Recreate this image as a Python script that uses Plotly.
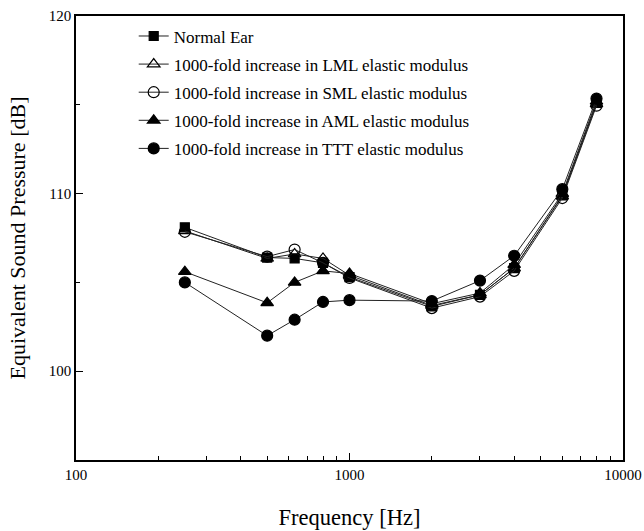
import plotly.graph_objects as go

freq = [250, 500, 630, 800, 1000, 2000, 3000, 4000, 6000, 8000]
normal_ear = [108.1, 106.4, 106.35, 106.1, 105.3, 103.65, 104.3, 105.8, 109.9, 115.1]
lml = [107.9, 106.35, 106.6, 106.35, 105.4, 103.7, 104.3, 105.8, 109.85, 115.05]
sml = [107.85, 106.45, 106.85, 106.1, 105.25, 103.55, 104.2, 105.65, 109.75, 114.95]
aml = [105.6, 103.85, 105.0, 105.65, 105.5, 103.8, 104.4, 106.0, 110.0, 115.2]
ttt = [105.0, 102.0, 102.9, 103.9, 104.0, 103.95, 105.1, 106.5, 110.25, 115.35]

names = ["Normal Ear",
         "1000-fold increase in LML elastic modulus",
         "1000-fold increase in SML elastic modulus",
         "1000-fold increase in AML elastic modulus",
         "1000-fold increase in TTT elastic modulus"]
series = [normal_ear, lml, sml, aml, ttt]
symbols = ["square", "triangle-up-open", "circle-open", "triangle-up", "circle"]
sizes = [9, 11, 11, 11, 11]

x_major = [100, 1000, 10000]
x_minor = [200, 300, 400, 500, 600, 700, 800, 900, 2000, 3000, 4000, 5000, 6000, 7000, 8000, 9000]
y_major = [100, 110, 120]
y_minor = [105, 115]

FONT = "Liberation Serif, Times New Roman, serif"

fig = go.Figure()
for i, (name, vals, sym, sz) in enumerate(zip(names, series, symbols, sizes)):
    fig.add_trace(go.Scatter(
        x=freq, y=vals, name=name, mode="lines+markers", legendgroup=f"g{i}",
        line=dict(color="#222222", width=1),
        marker=dict(symbol=sym, size=sz, color="black",
                    line=dict(color="black", width=1.2)),
    ))

fig.update_layout(
    template="none",
    width=644, height=531,
    margin=dict(l=76, r=21, t=16, b=71, autoexpand=False),
    paper_bgcolor="white", plot_bgcolor="white",
    font=dict(family=FONT, color="black", size=15),
    showlegend=True,
    legend=dict(x=0.1055, y=0.9945, xanchor="left", yanchor="top",
                bgcolor="rgba(0,0,0,0)", font=dict(family=FONT, size=17, color="black"),
                traceorder="grouped", tracegroupgap=3, borderwidth=0),
    xaxis=dict(
        type="log", range=[2, 4], automargin=False,
        title=dict(text="Frequency [Hz]", font=dict(family=FONT, size=22.5), standoff=27),
        tickmode="array", tickvals=x_major, ticktext=[str(v) for v in x_major],
        ticks="inside", ticklen=7, tickwidth=1, tickcolor="black",
        minor=dict(tickmode="array", tickvals=x_minor, ticks="inside", ticklen=4, tickwidth=1, tickcolor="black"),
        showline=True, linecolor="black", linewidth=1.5, mirror=True,
        showgrid=False, zeroline=False, tickfont=dict(family=FONT, size=15),
    ),
    yaxis=dict(
        range=[95, 120], automargin=False,
        title=dict(text="Equivalent Sound Pressure [dB]", font=dict(family=FONT, size=22), standoff=17),
        tickmode="array", tickvals=y_major,
        ticks="inside", ticklen=7, tickwidth=1, tickcolor="black",
        minor=dict(tickmode="array", tickvals=y_minor, ticks="inside", ticklen=4, tickwidth=1, tickcolor="black"),
        showline=True, linecolor="black", linewidth=1.5, mirror=True,
        showgrid=False, zeroline=False, tickfont=dict(family=FONT, size=15),
    ),
)

fig.write_html("out.html")
